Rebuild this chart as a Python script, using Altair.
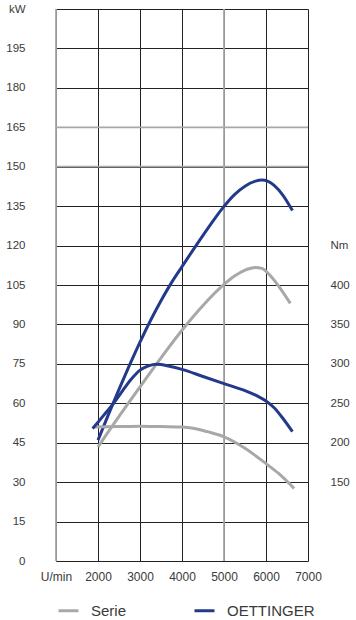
import altair as alt
import pandas as pd

# ---- axis ticks ----
RPM_TICKS = [1000, 2000, 3000, 4000, 5000, 6000, 7000]
KW_TICKS = [0, 15, 30, 45, 60, 75, 90, 105, 120, 135, 150, 165, 180, 195, 210]
NM_TICKS = [150, 200, 250, 300, 350, 400, 450]
GRAY_GRID_RPM = [1000, 5000]
GRAY_GRID_KW = [150, 165]

SERIES = ["Serie", "OETTINGER"]

# ---- power (kW) ----
oet_p_rpm = [2000, 2250, 2500, 2750, 3000, 3250, 3500, 3750, 4000, 4250, 4500, 4750,
             5000, 5250, 5500, 5750, 5900, 6050, 6200, 6400, 6630]
oet_p_kw = [46, 55.8, 65.3, 74.5, 83.3, 91.5, 99.0, 105.9, 112.0, 118.0, 123.9, 129.6,
            134.9, 139.4, 142.6, 144.5, 144.9, 144.4, 142.8, 139.2, 133.3]

ser_p_rpm = [2000, 2500, 3000, 3500, 4000, 4500, 5000, 5250, 5500, 5750, 5900, 6100, 6300, 6580]
ser_p_kw = [43.4, 55, 66.2, 77.3, 87.8, 97.2, 105.2, 108.4, 110.7, 111.7, 111.3, 108.6, 104.6, 98]

# ---- torque (Nm) ----
oet_t_rpm = [1870, 2000, 2200, 2400, 2600, 2800, 3000, 3200, 3400, 3700, 4000, 4500,
             5000, 5500, 5800, 6000, 6200, 6400, 6630]
oet_t_nm = [218, 226, 239, 252, 267, 281, 292, 297.5, 299.5, 297, 293, 284,
            275, 266, 259, 253, 244, 231, 214]

ser_t_rpm = [1900, 2500, 3000, 3500, 4000, 4300, 4600, 5000, 5500, 6000, 6300, 6670]
ser_t_nm = [220, 220.5, 221, 220.5, 220, 218, 214, 207.5, 193, 173.5, 161, 142]

power = pd.concat([
    pd.DataFrame({"rpm": ser_p_rpm, "kw": ser_p_kw, "series": "Serie"}),
    pd.DataFrame({"rpm": oet_p_rpm, "kw": oet_p_kw, "series": "OETTINGER"}),
])
torque = pd.concat([
    pd.DataFrame({"rpm": ser_t_rpm, "nm": ser_t_nm, "series": "Serie"}),
    pd.DataFrame({"rpm": oet_t_rpm, "nm": oet_t_nm, "series": "OETTINGER"}),
])

FONT = "Liberation Sans"
TXT = "#3a3a3a"
GRID = "#222222"
GRAY = "#a8a8a8"
BLUE = "#233a8b"

x_scale = alt.Scale(domain=[1000, 7000], nice=False, zero=False)
kw_scale = alt.Scale(domain=[0, 210], nice=False)
nm_scale = alt.Scale(domain=[50, 750], nice=False, zero=False)
color_scale = alt.Scale(domain=SERIES, range=[GRAY, BLUE])

x_axis = alt.Axis(values=RPM_TICKS, format="d",
                  labelExpr="datum.value == 1000 ? 'U/min' : datum.label",
                  title=None, grid=True, gridColor=GRID, gridWidth=1, domain=False,
                  ticks=False, labelPadding=10, labelFontSize=12, labelFont=FONT,
                  labelColor=TXT, labelFlush=False, labelOverlap=False)
kw_axis = alt.Axis(values=KW_TICKS, format="d",
                   labelExpr="datum.value == 210 ? 'kW' : datum.label",
                   title=None, grid=True, gridColor=GRID, gridWidth=1, domain=False,
                   ticks=False, labelPadding=31, labelFontSize=11.5, labelFont=FONT,
                   labelColor=TXT, labelFlush=False, labelOverlap=False)
nm_axis = alt.Axis(values=NM_TICKS, format="d", orient="right",
                   labelExpr="datum.value == 450 ? 'Nm' : datum.label",
                   title=None, grid=False, domain=False, ticks=False,
                   labelPadding=22, labelFontSize=11.5, labelFont=FONT,
                   labelColor=TXT, labelFlush=False, labelOverlap=False)

legend = alt.Legend(orient="none", legendX=1, legendY=590, direction="horizontal",
                    title=None, symbolType="stroke", symbolSize=400, symbolStrokeWidth=3,
                    labelFontSize=15, labelFont=FONT, labelColor=TXT, labelOffset=11,
                    columnPadding=61, padding=0)

gray_v = alt.Chart(pd.DataFrame({"rpm": GRAY_GRID_RPM})).mark_rule(
    color=GRAY, strokeWidth=1.8).encode(x=alt.X("rpm:Q", scale=x_scale, axis=x_axis))
gray_h = alt.Chart(pd.DataFrame({"kw": GRAY_GRID_KW})).mark_rule(
    color=GRAY, strokeWidth=1.8).encode(y=alt.Y("kw:Q", scale=kw_scale, axis=kw_axis))

power_lines = alt.Chart(power).mark_line(strokeWidth=3, interpolate="monotone").encode(
    x=alt.X("rpm:Q", scale=x_scale, axis=x_axis),
    y=alt.Y("kw:Q", scale=kw_scale, axis=kw_axis),
    color=alt.Color("series:N", scale=color_scale, legend=legend),
)

torque_lines = alt.Chart(torque).mark_line(strokeWidth=3, interpolate="monotone").encode(
    x=alt.X("rpm:Q", scale=x_scale, axis=x_axis),
    y=alt.Y("nm:Q", scale=nm_scale, axis=nm_axis),
    color=alt.Color("series:N", scale=color_scale, legend=legend),
)

chart = alt.layer(
    alt.layer(gray_v, gray_h, power_lines),
    torque_lines,
).resolve_scale(y="independent").properties(
    width=252, height=552,
    padding={"left": 56, "top": 9, "right": 48, "bottom": 59},
    autosize=alt.AutoSizeParams(type="none"),
    background="white",
).configure_view(stroke=None)

chart.save("out.html", embed_options={"renderer": "svg", "actions": False})
